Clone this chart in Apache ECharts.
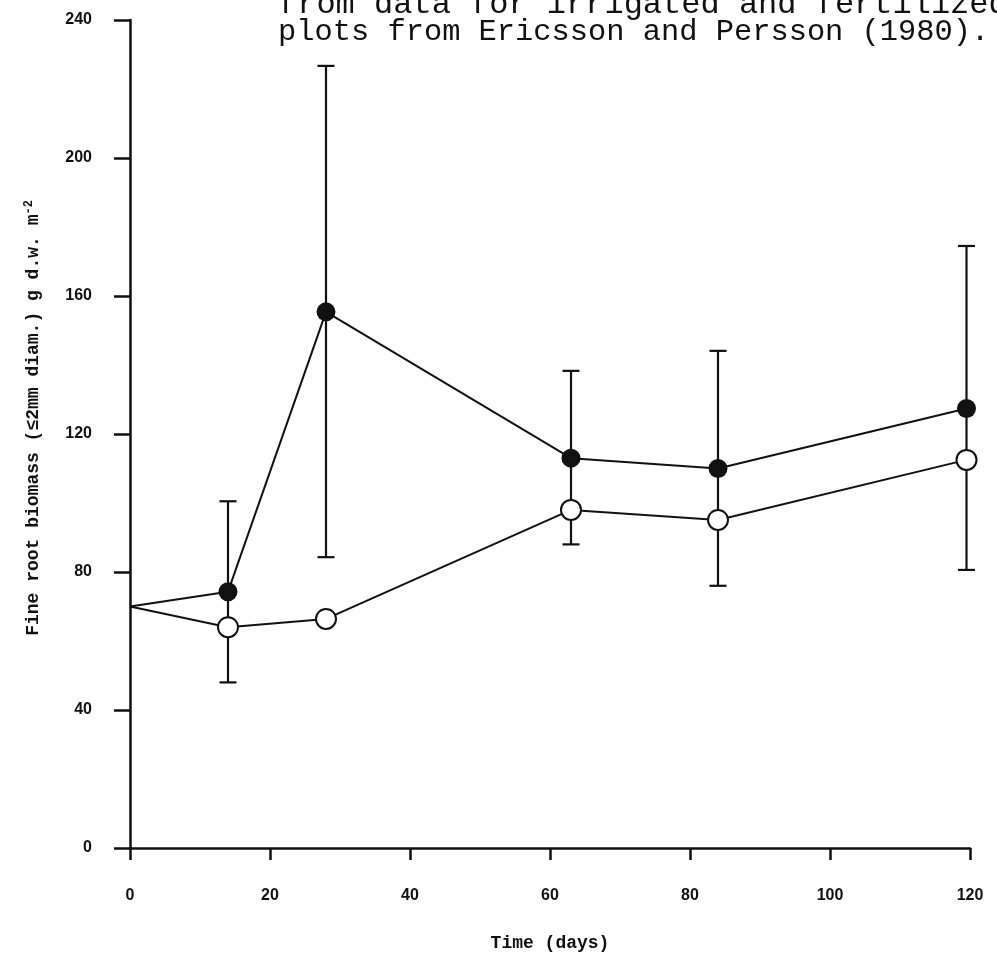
<!DOCTYPE html>
<html>
<head>
<meta charset="utf-8">
<script src="https://cdn.jsdelivr.net/npm/echarts@6/dist/echarts.min.js"></script>
<style>
html, body { margin: 0; padding: 0; background: #fff; }
#chart { width: 997px; height: 959px; }
</style>
</head>
<body>
<div id="chart"></div>
<script>
var chart = echarts.init(document.getElementById('chart'));

// days of sampling
var days = [0, 14, 28, 63, 84, 119.5];
// filled circles and open circles (g d.w. m-2)
var filledVals = [70, 74.3, 155.4, 113, 110, 127.4];
var openVals = [70, 64, 66.4, 98, 95.1, 112.5];
// error bars of the filled series: [day, low, high]
var errDays = [14, 28, 63, 84, 119.5];
var errLow = [48, 84.3, 88, 76, 80.6];
var errHigh = [100.5, 226.7, 138.3, 144.1, 174.5];

var xTicks = [0, 20, 40, 60, 80, 100, 120];
var yTicks = [0, 40, 80, 120, 160, 200, 240];

var captionLines = [
  'from data for irrigated and fertilized',
  'plots from Ericsson and Persson (1980).'
];

function pts(vals) {
  return days.map(function (d, i) {
    var item = { value: [d, vals[i]] };
    if (i === 0) item.symbol = 'none';
    return item;
  });
}

var errData = errDays.map(function (d, i) {
  return [d, errLow[i], errHigh[i]];
});

var mono = 'Liberation Mono';

var option = {
  backgroundColor: '#fff',
  animation: false,
  title: [
    {
      text: captionLines[0],
      left: 273,
      top: -13,
      textStyle: { fontFamily: mono, fontSize: 32, fontWeight: 'normal', color: '#111', lineHeight: 26 }
    },
    {
      text: captionLines[1],
      left: 273,
      top: 14,
      textStyle: { fontFamily: mono, fontSize: 30.4, fontWeight: 'normal', color: '#111', lineHeight: 26 }
    }
  ],
  grid: { left: 130, right: 27, top: 20, bottom: 111 },
  xAxis: {
    type: 'value',
    min: xTicks[0],
    max: xTicks[xTicks.length - 1],
    interval: 20,
    name: 'Time (days)',
    nameLocation: 'middle',
    nameGap: 86,
    nameTextStyle: { fontFamily: mono, fontWeight: 'bold', fontSize: 18, color: '#111' },
    axisLine: { onZero: false, lineStyle: { color: '#111', width: 2.5 } },
    axisTick: { length: 12, lineStyle: { color: '#111', width: 2.5 } },
    axisLabel: { margin: 40, fontFamily: 'Liberation Sans', fontWeight: 'bold', fontSize: 16, color: '#111' },
    splitLine: { show: false }
  },
  yAxis: {
    type: 'value',
    min: yTicks[0],
    max: yTicks[yTicks.length - 1],
    interval: 40,
    name: '{t|Fine root biomass (≤2mm diam.) g d.w. m}{s|-2}',
    nameLocation: 'middle',
    nameGap: 86,
    nameTextStyle: {
      padding: [0, 0, 0, 32],
      rich: {
        t: { fontFamily: mono, fontWeight: 'bold', fontSize: 18, color: '#111' },
        s: { fontFamily: mono, fontWeight: 'bold', fontSize: 12, color: '#111', verticalAlign: 'top', padding: [0, 0, 9, 0] }
      }
    },
    axisLine: { onZero: false, lineStyle: { color: '#111', width: 2.5 } },
    axisTick: { length: 16, lineStyle: { color: '#111', width: 2.5 } },
    axisLabel: { margin: 38, fontFamily: 'Liberation Sans', fontWeight: 'bold', fontSize: 16, color: '#111' },
    splitLine: { show: false }
  },
  series: [
    {
      name: 'error',
      type: 'custom',
      z: 1,
      data: errData,
      renderItem: function (params, api) {
        var x = api.value(0);
        var lo = api.coord([x, api.value(1)]);
        var hi = api.coord([x, api.value(2)]);
        var cap = 8.5;
        var style = { stroke: '#111', lineWidth: 2.2 };
        return {
          type: 'group',
          children: [
            { type: 'line', shape: { x1: lo[0], y1: lo[1], x2: hi[0], y2: hi[1] }, style: style },
            { type: 'line', shape: { x1: lo[0] - cap, y1: lo[1], x2: lo[0] + cap, y2: lo[1] }, style: style },
            { type: 'line', shape: { x1: hi[0] - cap, y1: hi[1], x2: hi[0] + cap, y2: hi[1] }, style: style }
          ]
        };
      }
    },
    {
      name: 'filled',
      type: 'line',
      z: 2,
      data: pts(filledVals),
      symbol: 'circle',
      symbolSize: 19,
      lineStyle: { color: '#111', width: 2 },
      itemStyle: { color: '#111', borderColor: '#111', borderWidth: 0 }
    },
    {
      name: 'open',
      type: 'line',
      z: 3,
      data: pts(openVals),
      symbol: 'circle',
      symbolSize: 20,
      showAllSymbol: true,
      lineStyle: { color: '#111', width: 2 },
      itemStyle: { color: '#fff', borderColor: '#111', borderWidth: 2 }
    }
  ]
};

chart.setOption(option);

window.addEventListener('resize', function () {
  chart.resize();
});
</script>
</body>
</html>
